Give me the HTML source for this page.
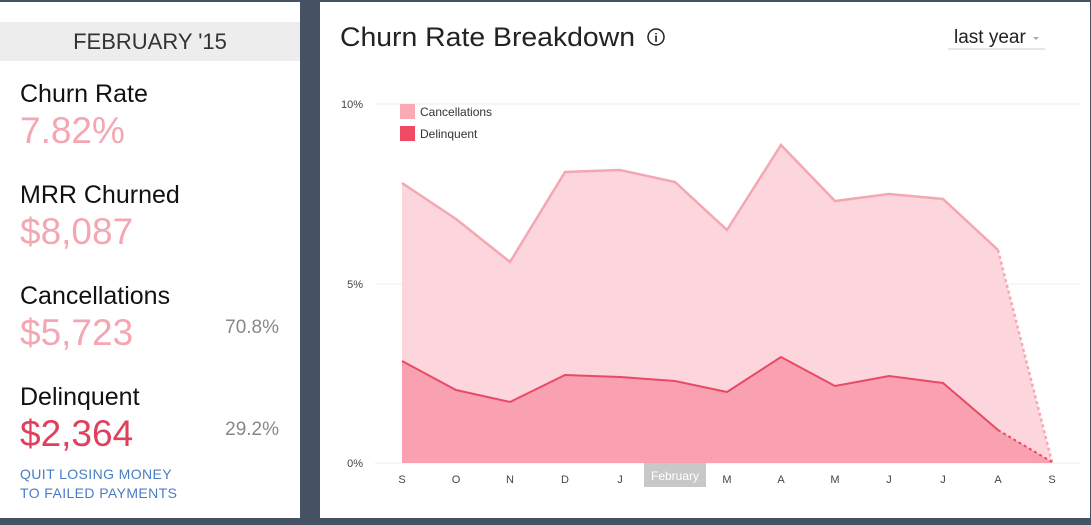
<!DOCTYPE html>
<html><head><style>
body{margin:0;width:1091px;height:525px;background:#465263;position:relative;overflow:hidden;font-family:"Liberation Sans",sans-serif}
#l{position:absolute;left:0;top:2px;width:300px;height:516px;background:#fff}
#r{position:absolute;left:320px;top:2px;width:770px;height:516px;background:#fff}
.hd{position:absolute;left:0;top:20px;width:300px;height:39px;background:#ededed;text-align:center;line-height:40px;font-size:22px;color:#333}
.lb{position:absolute;left:20px;font-size:25px;color:#111}
.v{position:absolute;left:20px;font-size:37px;color:#f4a7b3}
.p{position:absolute;right:21px;font-size:19px;color:#888}
.lk{position:absolute;left:20px;font-size:14px;color:#4a7cc4;line-height:19px;letter-spacing:.4px}
</style></head><body>
<div id="l">
<div class="hd">FEBRUARY '15</div>
<div class="lb" style="top:78px">Churn Rate</div>
<div class="v" style="top:108px">7.82%</div>
<div class="lb" style="top:179px">MRR Churned</div>
<div class="v" style="top:209px">$8,087</div>
<div class="lb" style="top:280px">Cancellations</div>
<div class="v" style="top:310px">$5,723</div>
<div class="p" style="top:315px">70.8%</div>
<div class="lb" style="top:381px">Delinquent</div>
<div class="v" style="top:411px;color:#e0405c">$2,364</div>
<div class="p" style="top:417px">29.2%</div>
<div class="lk" style="top:463px">QUIT LOSING MONEY<br>TO FAILED PAYMENTS</div>
</div>
<div id="r"></div>
<svg width="1091" height="525" style="position:absolute;left:0;top:0" font-family="Liberation Sans, sans-serif">
<text x="340" y="46" font-size="27" fill="#222" textLength="295" lengthAdjust="spacingAndGlyphs">Churn Rate Breakdown</text>
<circle cx="656" cy="37" r="8" fill="none" stroke="#222" stroke-width="1.5"/>
<text x="656" y="42" font-size="12" font-weight="bold" text-anchor="middle" fill="#222">i</text>
<text x="954" y="43" font-size="19" fill="#222">last year</text>
<path d="M1033 37h6l-3 3z" fill="#aaa"/>
<line x1="948" y1="49" x2="1045" y2="49" stroke="#ccc"/>
<g stroke="#eee" stroke-width="1"><line x1="375" y1="104" x2="1080" y2="104"/><line x1="375" y1="284" x2="1080" y2="284"/><line x1="375" y1="463" x2="1080" y2="463"/></g>
<g font-size="11" fill="#444" text-anchor="end"><text x="363" y="108">10%</text><text x="363" y="288">5%</text><text x="363" y="467">0%</text></g>
<path d="M402 183L456 219L510 262L565 172L620 170L675 182L727 230L781 145L835 201L889 194L943 199L998 250L1052 462L1052 463L402 463Z" fill="#fdd5dc"/>
<path d="M402 183L456 219L510 262L565 172L620 170L675 182L727 230L781 145L835 201L889 194L943 199L998 250" fill="none" stroke="#f4a7b3" stroke-width="2.5"/>
<path d="M998 250L1052 462" fill="none" stroke="#f4a7b3" stroke-width="2.5" stroke-dasharray="3,3"/>
<path d="M402 361L456 390L510 402L565 375L620 377L675 381L727 392L781 357L835 386L889 376L943 383L998 430L1052 462L1052 463L402 463Z" fill="#f9a1b0"/>
<path d="M402 361L456 390L510 402L565 375L620 377L675 381L727 392L781 357L835 386L889 376L943 383L998 430" fill="none" stroke="#e84a65" stroke-width="2"/>
<path d="M998 430L1052 462" fill="none" stroke="#e84a65" stroke-width="2" stroke-dasharray="3,3"/>
<rect x="400" y="104" width="15" height="15" fill="#f9aab5"/>
<text x="420" y="116" font-size="12" fill="#333">Cancellations</text>
<rect x="400" y="126" width="15" height="15" fill="#f04a65"/>
<text x="420" y="138" font-size="12" fill="#333">Delinquent</text>
<rect x="644" y="463" width="62" height="24" fill="#c8c8c8"/>
<text x="675" y="480" font-size="12" fill="#fff" text-anchor="middle">February</text>
<g font-size="11" fill="#444" text-anchor="middle">
<text x="402" y="483">S</text><text x="456" y="483">O</text><text x="510" y="483">N</text><text x="565" y="483">D</text><text x="620" y="483">J</text><text x="727" y="483">M</text><text x="781" y="483">A</text><text x="835" y="483">M</text><text x="889" y="483">J</text><text x="943" y="483">J</text><text x="998" y="483">A</text><text x="1052" y="483">S</text>
</g>
</svg>
</body></html>
